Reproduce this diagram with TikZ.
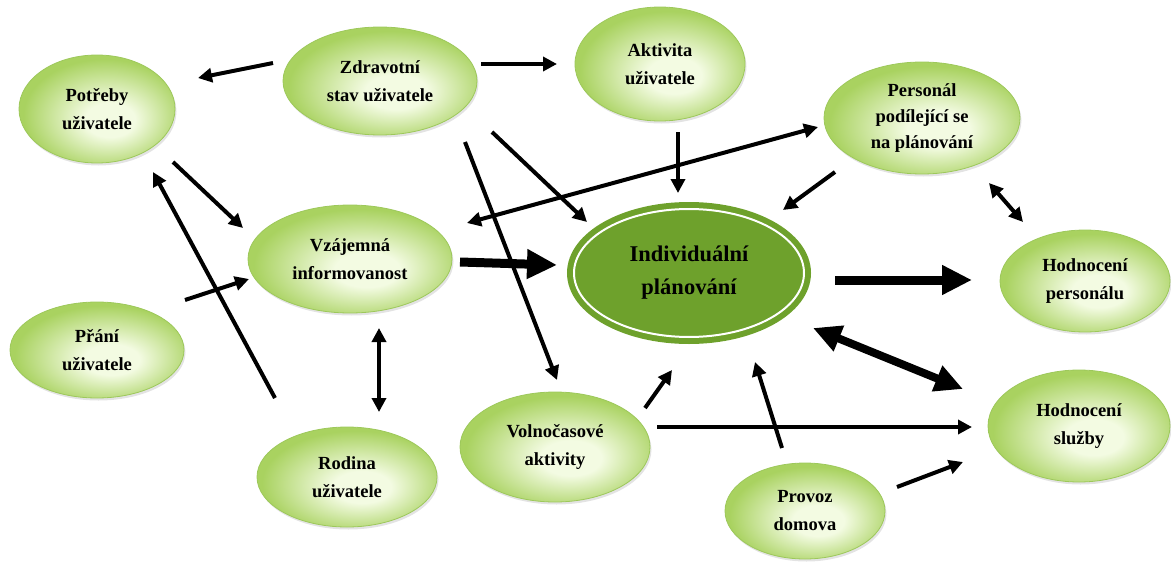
\documentclass[tikz,border=0pt]{standalone}
\usepackage{fontspec}
\setmainfont{Liberation Serif}
\usetikzlibrary{arrows.meta,shapes.geometric,shadows}

\definecolor{eggin}{HTML}{F3FBE2}
\definecolor{eggout}{HTML}{A9D260}
\definecolor{eggline}{HTML}{9DC85B}
\definecolor{planfill}{HTML}{6EA12C}

\pgfdeclareradialshading{egg}{\pgfpoint{5bp}{-6bp}}{color(0bp)=(eggin);color(8bp)=(eggin);color(26bp)=(eggout);color(50bp)=(eggout)}

\tikzset{
  bubble/.style={ellipse, draw=eggline, line width=0.8pt, shade, shading=egg,
    inner sep=0pt, align=center, font=\fontsize{18.5}{28}\selectfont\bfseries,
    drop shadow={opacity=0.22, shadow xshift=1.5pt, shadow yshift=-2.5pt}},
  plan/.style={ellipse, fill=planfill, draw=planfill, line width=6pt,
    double=white, double distance=2pt, inner sep=0pt, align=center,
    font=\fontsize{22.5}{33}\selectfont\bfseries},
  arr/.style={line width=4pt, -{Triangle[length=14pt,width=14pt]}},
  arrs/.style={line width=4pt, {Triangle[length=14pt,width=14pt]}-{Triangle[length=14pt,width=14pt]}},
  fat/.style={line width=9pt, -{Triangle[length=30pt,width=28pt]}},
  fats/.style={line width=8pt, {Triangle[length=28pt,width=26pt]}-{Triangle[length=28pt,width=26pt]}}
}

\begin{document}
\begin{tikzpicture}[x=1pt,y=-1pt]
\useasboundingbox (0,0) rectangle (1171,562);

% ellipses
\node[bubble, minimum width=156, minimum height=108] (po) at (97,109)  {Potřeby\\uživatele};
\node[bubble, minimum width=194, minimum height=108] (zs) at (380,81)  {Zdravotní\\stav uživatele};
\node[bubble, minimum width=170, minimum height=114] (ak) at (660,64)  {Aktivita\\uživatele};
\node[bubble, minimum width=196, minimum height=112, font=\fontsize{18.5}{26}\selectfont\bfseries] (pe) at (922,118) {Personál\\podílející se\\na plánování};
\node[bubble, minimum width=204, minimum height=108] (vz) at (350,259) {Vzájemná\\informovanost};
\node[plan,   minimum width=230, minimum height=128] (ip) at (689,273) {Individuální\\plánování};
\node[bubble, minimum width=170, minimum height=102] (hp) at (1085,281) {Hodnocení\\personálu};
\node[bubble, minimum width=174, minimum height=96]  (pr) at (97,350)  {Přání\\uživatele};
\node[bubble, minimum width=180, minimum height=100] (ro) at (347,477) {Rodina\\uživatele};
\node[bubble, minimum width=190, minimum height=110] (vo) at (555,447) {Volnočasové\\aktivity};
\node[bubble, minimum width=160, minimum height=96]  (pd) at (805,511) {Provoz\\domova};
\node[bubble, minimum width=182, minimum height=112] (hs) at (1079,426) {Hodnocení\\služby};

% arrow ends
\coordinate (zs_po) at (273,63);  \coordinate (po_zs) at (198,78);
\coordinate (zs_ak) at (481,64);  \coordinate (ak_zs) at (557,64);
\coordinate (po_vz) at (173,162); \coordinate (vz_po) at (243,228);
\coordinate (ro_po) at (275,398); \coordinate (po_ro) at (153,172);
\coordinate (pr_vz) at (185,300); \coordinate (vz_pr) at (249,279);
\coordinate (vz_pe) at (467,223); \coordinate (pe_vz) at (818,127);
\coordinate (zs_ip) at (492,132); \coordinate (ip_zs) at (587,222);
\coordinate (zs_vo) at (465,142); \coordinate (vo_zs) at (557,380);
\coordinate (ak_ip) at (678,132); \coordinate (ip_ak) at (678,193);
\coordinate (pe_ip) at (835,172); \coordinate (ip_pe) at (783,210);
\coordinate (vz_ip) at (460,262); \coordinate (ip_vz) at (557,265);
\coordinate (ip_hp) at (835,280); \coordinate (hp_ip) at (972,280);
\coordinate (ip_hs) at (813,328); \coordinate (hs_ip) at (963,389);
\coordinate (pe_hp) at (989,183); \coordinate (hp_pe) at (1023,222);
\coordinate (vz_ro) at (379,328); \coordinate (ro_vz) at (379,412);
\coordinate (vo_ip) at (645,408); \coordinate (ip_vo) at (672,370);
\coordinate (pd_ip) at (782,448); \coordinate (ip_pd) at (755,362);
\coordinate (vo_hs) at (657,427); \coordinate (hs_vo) at (972,427);
\coordinate (pd_hs) at (897,487); \coordinate (hs_pd) at (963,462);

% connectors
\path[arr]
  (zs_po) edge (po_zs)
  (zs_ak) edge (ak_zs)
  (po_vz) edge (vz_po)
  (ro_po) edge (po_ro)
  (pr_vz) edge (vz_pr)
  (zs_ip) edge (ip_zs)
  (zs_vo) edge (vo_zs)
  (ak_ip) edge (ip_ak)
  (pe_ip) edge (ip_pe)
  (vo_ip) edge (ip_vo)
  (pd_ip) edge (ip_pd)
  (vo_hs) edge (hs_vo)
  (pd_hs) edge (hs_pd);
\path[arrs]
  (vz_pe) edge (pe_vz)
  (pe_hp) edge (hp_pe)
  (vz_ro) edge (ro_vz);
\path[fat]
  (vz_ip) edge (ip_vz)
  (ip_hp) edge (hp_ip);
\path[fats]
  (ip_hs) edge (hs_ip);
\end{tikzpicture}
\end{document}
